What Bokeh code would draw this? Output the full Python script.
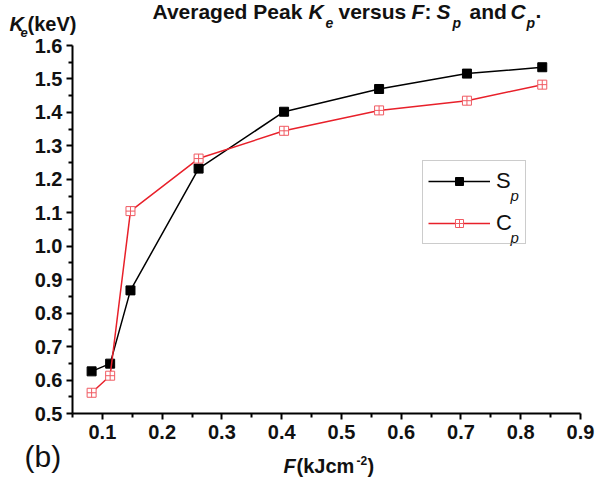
from bokeh.plotting import figure
from bokeh.models import Range1d, FixedTicker, Label, Legend, LegendItem
from bokeh.embed import file_html
from bokeh.resources import INLINE

# ---- data ----
F_values = [0.082, 0.113, 0.147, 0.261, 0.404, 0.563, 0.710, 0.836]
Sp_values = [0.626, 0.649, 0.868, 1.232, 1.402, 1.470, 1.516, 1.535]
Cp_values = [0.562, 0.613, 1.105, 1.262, 1.345, 1.406, 1.435, 1.483]

x_tick_values = [0.1, 0.2, 0.3, 0.4, 0.5, 0.6, 0.7, 0.8, 0.9]
x_tick_labels = ["0.1", "0.2", "0.3", "0.4", "0.5", "0.6", "0.7", "0.8", "0.9"]
x_minor_values = [0.05, 0.15, 0.25, 0.35, 0.45, 0.55, 0.65, 0.75, 0.85]
y_tick_values = [0.5, 0.6, 0.7, 0.8, 0.9, 1.0, 1.1, 1.2, 1.3, 1.4, 1.5, 1.6]
y_tick_labels = ["0.5", "0.6", "0.7", "0.8", "0.9", "1.0", "1.1", "1.2", "1.3", "1.4", "1.5", "1.6"]
y_minor_values = [0.55, 0.65, 0.75, 0.85, 0.95, 1.05, 1.15, 1.25, 1.35, 1.45, 1.55]
x_axis_span = (0.05, 0.9)
y_axis_span = (0.5, 1.6)

FONT = "Liberation Sans"
RED = "#e8202a"
W, H = 595, 478

# pixel positions of the axis ends on the canvas (layout, not data)
AX_L, AX_R, AX_T, AX_B = 72, 580, 45, 413
sx = (AX_R - AX_L) / (x_axis_span[1] - x_axis_span[0])
sy = (AX_B - AX_T) / (y_axis_span[1] - y_axis_span[0])
x0 = x_axis_span[0] - AX_L / sx
y0 = y_axis_span[0] - (H - AX_B) / sy

p = figure(width=W, height=H, output_backend="svg", toolbar_location=None,
           x_range=Range1d(x0, x0 + W / sx), y_range=Range1d(y0, y0 + H / sy),
           min_border_left=0, min_border_right=0, min_border_top=0, min_border_bottom=0)
p.title.visible = False
p.outline_line_color = None
p.grid.visible = False
p.background_fill_color = "white"
p.border_fill_color = "white"

p.xaxis[0].fixed_location = y_axis_span[0]
p.yaxis[0].fixed_location = x_axis_span[0]
p.xaxis[0].bounds = x_axis_span
p.yaxis[0].bounds = y_axis_span

for ax, ticks, minor, labels in ((p.xaxis[0], x_tick_values, x_minor_values, x_tick_labels),
                                 (p.yaxis[0], y_tick_values, y_minor_values, y_tick_labels)):
    ax.ticker = FixedTicker(ticks=ticks, minor_ticks=minor)
    ax.major_label_overrides = {t: l for t, l in zip(ticks, labels)}
    ax.axis_line_width = 2
    ax.axis_line_color = "black"
    ax.major_tick_line_width = 2
    ax.minor_tick_line_width = 2
    ax.major_tick_line_color = "black"
    ax.minor_tick_line_color = "black"
    ax.major_tick_in = 0
    ax.major_tick_out = 6
    ax.minor_tick_in = 0
    ax.minor_tick_out = 4
    ax.major_label_text_font = FONT
    ax.major_label_text_font_style = "bold"
    ax.major_label_text_font_size = "20px"
    ax.major_label_text_color = "#111111"
p.xaxis.major_label_standoff = 5
p.yaxis.major_label_standoff = 4

sl = p.line(F_values, Sp_values, line_color="black", line_width=1.5)
ss = p.scatter(F_values, Sp_values, marker="square", size=9,
               fill_color="black", line_color="black")
cl = p.line(F_values, Cp_values, line_color=RED, line_width=1.5)
cs = p.scatter(F_values, Cp_values, marker="square_cross", size=9,
               fill_color="white", line_color="#f05a62", line_width=1)

legend = Legend(items=[LegendItem(label="S", renderers=[sl, ss]),
                       LegendItem(label="C", renderers=[cl, cs])],
                location=(422, H - 244), margin=0,
                padding=5, spacing=12, glyph_width=62, glyph_height=20,
                label_height=30, label_width=24, label_standoff=6,
                label_text_font=FONT, label_text_font_size="22px",
                label_text_color="#111111",
                border_line_color="#999999", border_line_width=1.5,
                background_fill_alpha=0)
p.add_layout(legend)


def lab(cx, base, text, size, style="bold"):
    # cx: left edge, base: text baseline, both in canvas pixels from the top-left
    p.add_layout(Label(x=cx, y=H - (base - 0.35 * size), x_units="screen", y_units="screen",
                       text=text, text_font=FONT, text_font_size=f"{size}px",
                       text_font_style=style, text_color="#111111",
                       text_baseline="middle", text_align="left",
                       level="overlay"))


# title
lab(152, 18, "Averaged Peak", 21)
lab(308, 18, "K", 21, "bold italic")
lab(325, 27, "e", 14, "bold italic")
lab(338, 18, "versus", 21)
lab(411, 18, "F", 21, "bold italic")
lab(424, 18, ":", 21)
lab(436, 18, "S", 21, "bold italic")
lab(452, 27, "p", 14, "bold italic")
lab(469, 18, "and", 21)
lab(510, 18, "C", 21, "bold italic")
lab(526, 27, "p", 14, "bold italic")
lab(535, 18, ".", 21)

# y-axis label
lab(9, 30, "K", 20, "bold italic")
lab(20, 37, "e", 13, "bold italic")
lab(27, 30, "(keV)", 20)

# x-axis label
lab(283, 472, "F", 20, "bold italic")
lab(296, 472, "(kJcm", 20)
lab(356, 464, "-2", 12)
lab(367, 472, ")", 20)

# panel tag
lab(24, 466, "(b)", 30, "normal")

# legend subscripts
lab(510, 200, "p", 15, "italic")
lab(510, 242, "p", 15, "italic")

open("out.html", "w").write(file_html(p, INLINE))
